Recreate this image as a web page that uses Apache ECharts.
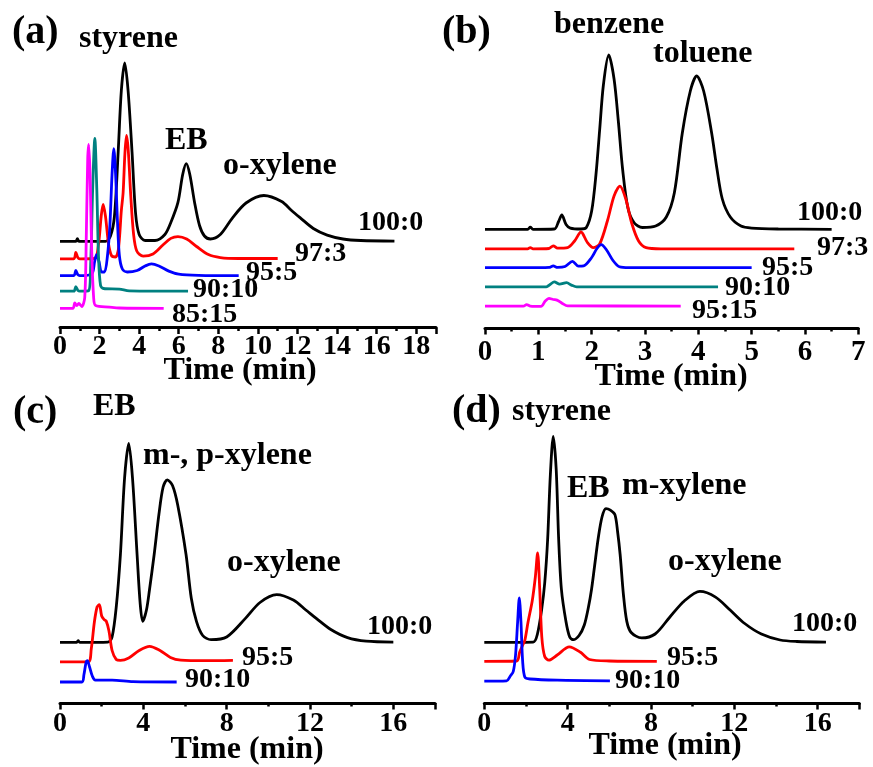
<!DOCTYPE html>
<html><head><meta charset="utf-8">
<script src="https://cdn.jsdelivr.net/npm/echarts@6/dist/echarts.min.js"></script>
<style>html,body{margin:0;padding:0;background:#fff}#c{width:873px;height:767px}</style>
</head><body><div id="c"></div>
<script>
// ---- Panel (a): [time (min), signal (a.u., traces offset)] ----
const a100 = [[0,27.7],[0.8,27.7],[0.88,28.6],[0.96,27.7],[2.3,27.7],[2.55,29.5],[2.75,36],[2.94,57.5],[3.1,78],[3.27,87.2],[3.44,78],[3.64,57.5],[3.82,37],[4.0,30],[4.3,28],[4.8,28],[5.3,30],[5.6,34],[5.96,40.7],[6.2,50],[6.38,53.6],[6.56,50],[6.8,40.7],[7.05,33],[7.3,29.5],[7.6,28.5],[8.1,30],[8.7,35.4],[9.4,40.5],[10.3,43],[11.2,41],[11.7,38],[12.17,35.4],[12.8,32],[13.5,29.8],[14.3,28.5],[15.2,28],[16.9,27.8]];
const a97 = [[0,21.9],[0.7,21.9],[0.8,24],[0.9,22.3],[1.0,21.9],[1.75,22],[1.95,27],[2.08,36],[2.18,40],[2.3,36],[2.45,27],[2.6,23],[2.8,22.5],[2.95,25],[3.1,38],[3.19,44],[3.28,57],[3.36,63],[3.45,58],[3.58,42.5],[3.72,30],[3.88,24.5],[4.2,22.8],[4.7,23.5],[5.2,26.5],[5.6,28.7],[5.96,29.3],[6.4,28.5],[6.9,26],[7.5,23.3],[8.1,22.3],[9,22],[11.0,22]];
const a95 = [[0,16.3],[0.7,16.3],[0.8,18],[0.9,16.6],[1.0,16.3],[1.6,16.8],[1.75,21],[1.85,23.3],[1.97,21],[2.1,17.5],[2.25,17.5],[2.4,23],[2.52,33],[2.63,50],[2.72,58.6],[2.81,50],[2.9,35],[3.0,23],[3.15,18.5],[3.4,17.5],[3.9,18],[4.3,19.5],[4.62,20.2],[5.0,19.5],[5.5,17.8],[6.0,16.8],[7,16.4],[9.03,16.3]];
const a90 = [[0,11.1],[0.7,11.1],[0.8,12.6],[0.9,11.4],[1.0,11.1],[1.45,11.3],[1.55,20],[1.65,45],[1.76,62],[1.86,45],[1.95,22],[2.05,13],[2.2,12],[3.0,11.8],[3.5,11.2],[6.47,11.1]];
const a85 = [[0,5.4],[0.65,5.4],[0.75,7.2],[0.85,6.3],[0.95,7],[1.1,6],[1.25,9],[1.33,30],[1.4,55],[1.45,60],[1.52,50],[1.6,25],[1.7,9],[1.8,6.3],[2.5,5.8],[3,5.5],[5.24,5.4]];

// ---- Panel (b) ----
const b100 = [[0,31.9],[0.8,31.9],[0.85,32.6],[0.9,31.9],[1.3,32],[1.38,34.5],[1.44,36.7],[1.52,33.5],[1.6,32.3],[1.8,32],[1.9,32.5],[2.0,38],[2.08,50],[2.15,65],[2.22,80],[2.32,90],[2.42,82],[2.5,68],[2.58,52],[2.68,39],[2.8,34],[2.95,32.5],[3.2,33],[3.4,36],[3.55,44],[3.7,64],[3.85,78],[3.97,83],[4.1,78],[4.25,64],[4.35,52],[4.45,42],[4.6,36],[4.8,33],[5.0,32.3],[5.5,32],[6.5,31.9]];
const b97 = [[0,25.4],[0.8,25.4],[0.85,25.8],[0.9,25.4],[1.2,25.5],[1.28,26.4],[1.36,25.6],[1.55,25.8],[1.68,28],[1.8,31],[1.92,27.5],[2.03,25.8],[2.15,27],[2.3,35],[2.42,43],[2.53,46.3],[2.64,42],[2.75,34],[2.88,28],[3.02,25.8],[3.3,25.4],[5.8,25.4]];
const b95 = [[0,19.1],[0.8,19.1],[1.2,19.2],[1.28,19.7],[1.36,19.2],[1.5,19.5],[1.64,21.2],[1.75,19.6],[1.85,19.7],[2.0,22.5],[2.1,25.5],[2.18,26.8],[2.28,25],[2.4,21.5],[2.52,19.4],[2.7,19.1],[5.0,19.1]];
const b90 = [[0,12.7],[1.15,12.7],[1.22,13.5],[1.3,14.4],[1.4,13.6],[1.53,14.1],[1.62,13.3],[1.72,12.7],[4.37,12.7]];
const b85 = [[0,6.3],[0.72,6.3],[0.78,6.8],[0.85,6.3],[1.05,6.2],[1.13,8],[1.2,8.9],[1.28,8.5],[1.35,8.3],[1.45,7.2],[1.55,6.4],[3.67,6.3]];

// ---- Panel (c) ----
const c100 = [[0,20.2],[0.8,20.2],[0.87,20.8],[0.95,20.2],[2.3,20.3],[2.5,22],[2.7,32],[2.9,49.5],[3.1,75],[3.3,86.5],[3.48,75],[3.7,49.5],[3.85,33],[3.97,27.2],[4.15,31],[4.3,38],[4.52,49.5],[4.75,63],[4.95,72],[5.15,74.4],[5.4,72.5],[5.65,66],[6.05,49.5],[6.3,35],[6.55,27.2],[6.85,22.5],[7.25,21.1],[8.0,22],[8.9,28.2],[9.6,33.5],[10.4,36.1],[11.2,34.3],[11.8,31],[12.3,28.2],[13.0,24.5],[13.8,21.8],[14.7,20.6],[16.0,20.3]];
const c95 = [[0,13.7],[1.35,13.7],[1.5,18],[1.65,27],[1.78,32],[1.89,32.8],[2.0,29],[2.12,27.8],[2.22,27.3],[2.35,24],[2.5,17.5],[2.7,14.5],[2.9,14.2],[3.3,15],[3.8,17.5],[4.3,18.9],[4.8,17.5],[5.3,15.2],[5.8,14.3],[7,14.1],[8.3,14.2]];
const c90 = [[0,7.0],[1.05,7.0],[1.15,9.5],[1.25,13.5],[1.31,14.1],[1.42,12],[1.55,9],[1.7,7.6],[2.5,7.6],[3.5,7.1],[5.6,7.0]];

// ---- Panel (d) ----
const d100 = [[0,20.2],[2.35,20.3],[2.55,23],[2.75,31],[2.9,40],[3.04,54.5],[3.17,76],[3.31,88.9],[3.45,78],[3.57,54.5],[3.7,38],[3.92,27.2],[4.1,22],[4.27,21.1],[4.55,22.5],[4.8,26],[5.0,32],[5.15,38],[5.3,46],[5.47,55],[5.65,62],[5.84,64.8],[6.05,64.3],[6.27,62.8],[6.4,57],[6.52,49.5],[6.68,36],[6.84,27.2],[7.05,23.5],[7.55,21.7],[8.2,23],[8.9,28.6],[9.6,34],[10.35,37.2],[11.1,35.3],[11.8,31],[12.5,26.5],[13.3,23],[14.2,21],[15.0,20.5],[16.4,20.3]];
const d95 = [[0,13.9],[1.55,14],[1.7,17],[1.85,19.4],[1.95,21],[2.1,27],[2.3,34],[2.45,42],[2.56,50],[2.66,38],[2.76,22],[2.9,15.5],[3.1,14.3],[3.5,16],[4.08,18.7],[4.6,17],[5.05,14.5],[6,14],[8.28,13.9]];
const d90 = [[0,7.3],[1.07,7.4],[1.25,9],[1.39,10.5],[1.5,16],[1.6,27],[1.68,35],[1.76,27],[1.84,14],[1.95,8.6],[2.2,8],[3.5,7.6],[6.03,7.4]];

// ---- axis settings ----
const xMax = [19, 7, 18, 18];
const xInterval = [2, 1, 4, 4];

// ---- texts ----
const panelTags = ['(a)', '(b)', '(c)', '(d)'];
const axisTitle = 'Time (min)';

const FONT = '"Liberation Serif","Times New Roman",serif';
const COLORS = {black:'#000000', red:'#ff0000', blue:'#0000ff', teal:'#008080', magenta:'#ff00ff'};

const grids = [
  {left:60, top:24.5, width:376, height:303},
  {left:485, top:25, width:373.3, height:303},
  {left:60, top:403, width:375, height:300},
  {left:484.3, top:403, width:375, height:300}
];
const yMin = [-1, -1, 0, 0];
const labelMargin = [5, 10.5, 7, 7];
const labelSize = [28, 29, 28, 28];

const xAxes = grids.map((g, i) => ({
  gridIndex: i, type: 'value', min: 0, max: xMax[i], interval: xInterval[i],
  axisLine: {show: true, onZero: false, lineStyle: {color: '#000', width: 3}},
  axisTick: {show: true, inside: false, length: 6.5, lineStyle: {color: '#000', width: 2.5}},
  minorTick: {show: true, splitNumber: 2, length: 3.5, lineStyle: {color: '#000', width: 2.5}},
  splitLine: {show: false},
  axisLabel: {
    margin: labelMargin[i], color: '#000', fontFamily: FONT, fontWeight: 'bold', fontSize: labelSize[i],
    formatter: v => (v % xInterval[i] === 0 ? String(v) : '')
  }
}));
const yAxes = grids.map((g, i) => ({gridIndex: i, type: 'value', min: yMin[i], max: 100, show: false}));

function trace(data, color, idx, z) {
  return {
    type: 'line', xAxisIndex: idx, yAxisIndex: idx, data: data,
    showSymbol: false, symbol: 'none', smooth: 0.3, z: z,
    lineStyle: {color: color, width: 2.8}, itemStyle: {color: color}, animation: false
  };
}
const series = [
  trace(a100, COLORS.black, 0, 2), trace(a97, COLORS.red, 0, 3), trace(a95, COLORS.blue, 0, 4), trace(a90, COLORS.teal, 0, 5), trace(a85, COLORS.magenta, 0, 6),
  trace(b100, COLORS.black, 1, 2), trace(b97, COLORS.red, 1, 3), trace(b95, COLORS.blue, 1, 4), trace(b90, COLORS.teal, 1, 5), trace(b85, COLORS.magenta, 1, 6),
  trace(c100, COLORS.black, 2, 2), trace(c95, COLORS.red, 2, 3), trace(c90, COLORS.blue, 2, 4),
  trace(d100, COLORS.black, 3, 2), trace(d95, COLORS.red, 3, 3), trace(d90, COLORS.blue, 3, 4)
];

// annotation layout: [text, x, y(middle), fontSize, align]
const notes = [
  [panelTags[0], 12, 32.4, 40, 'left'], ['styrene', 79, 39, 32, 'left'], ['EB', 165, 141, 32, 'left'], ['o-xylene', 223, 166, 32, 'left'],
  ['100:0', 358, 222.5, 28, 'left'], ['97:3', 295, 253.5, 28, 'left'], ['95:5', 246, 272.5, 28, 'left'], ['90:10', 193, 289.5, 28, 'left'], ['85:15', 172, 314.5, 28, 'left'],
  [axisTitle, 240, 371, 32, 'center'],
  [panelTags[1], 442, 32.4, 40, 'left'], ['benzene', 554, 25, 32, 'left'], ['toluene', 653, 54, 32, 'left'],
  ['100:0', 797, 212.5, 28, 'left'], ['97:3', 817, 247.5, 28, 'left'], ['95:5', 762, 267.5, 28, 'left'], ['90:10', 725, 287.5, 28, 'left'], ['95:15', 692, 310.5, 28, 'left'],
  [axisTitle, 671, 377, 32, 'center'],
  [panelTags[2], 13, 412.4, 40, 'left'], ['EB', 93, 407, 32, 'left'], ['m-, p-xylene', 143, 456, 32, 'left'], ['o-xylene', 227, 563, 32, 'left'],
  ['100:0', 367, 626.5, 28, 'left'], ['95:5', 242, 657.5, 28, 'left'], ['90:10', 185, 679.5, 28, 'left'],
  [axisTitle, 247, 750, 32, 'center'],
  [panelTags[3], 452, 411.4, 40, 'left'], ['styrene', 512, 412, 32, 'left'], ['EB', 567, 489, 32, 'left'], ['m-xylene', 622, 486, 32, 'left'], ['o-xylene', 668, 562, 32, 'left'],
  ['100:0', 792, 623.5, 28, 'left'], ['95:5', 667, 657.5, 28, 'left'], ['90:10', 615, 680.5, 28, 'left'],
  [axisTitle, 665, 746, 32, 'center']
];
const graphic = notes.map(n => ({
  type: 'text', x: n[1], y: n[2], z: 100,
  style: {text: n[0], fill: '#000', font: 'bold ' + n[3] + 'px ' + FONT, textAlign: n[4], textVerticalAlign: 'middle'}
}));

const chart = echarts.init(document.getElementById('c'), null, {renderer: 'canvas'});
chart.setOption({
  animation: false,
  backgroundColor: '#fff',
  grid: grids,
  xAxis: xAxes,
  yAxis: yAxes,
  series: series,
  graphic: graphic
});
</script>
</body></html>
